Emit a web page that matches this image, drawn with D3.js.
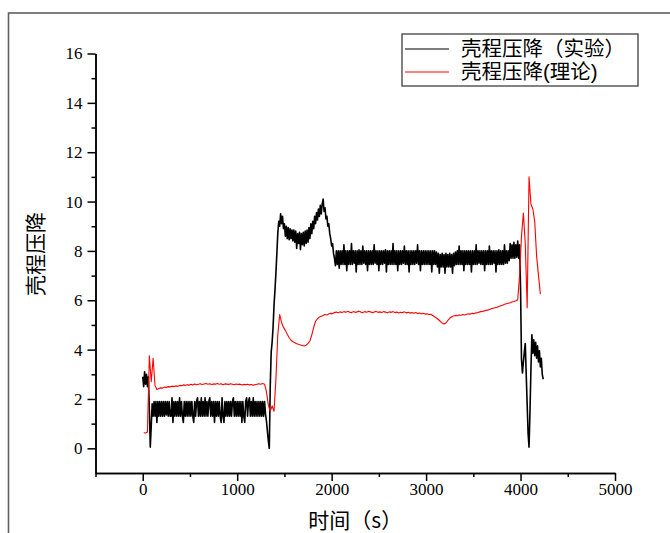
<!DOCTYPE html>
<html>
<head>
<meta charset="utf-8">
<script src="https://cdn.jsdelivr.net/npm/d3@7/dist/d3.min.js"></script>
<style>
  body { margin: 0; background: #fff; }
  svg { display: block; }
  .tick text { font-family: "Liberation Serif", "Times New Roman", serif; font-size: 17px; fill: #000; }
  .cjk { font-family: "Noto Sans CJK SC", sans-serif; }
  .legend-text { font-family: "Liberation Sans", "Noto Sans CJK SC", sans-serif; }
</style>
</head>
<body>
<script>
// experimental shell-side pressure drop, logged every 10 s from t = 0
var expStart = 0, expStep = 10;
var expValues = [
  2.9, 2.5, 3.1, 2.6, 3.0, 2.5, 2.9, 1.6, 0.05, 0.9,          // 0
  1.8, 1.3, 1.9, 1.3, 1.9, 1.05, 1.9, 1.3, 1.9, 1.3,          // 100
  1.9, 1.3, 1.9, 1.3, 1.9, 1.35, 1.9, 1.3, 1.9, 1.3,          // 200
  1.3, 2.05, 1.05, 1.9, 1.3, 1.9, 1.3, 1.9, 1.3, 2.05,        // 300
  1.3, 1.9, 1.3, 1.05, 1.9, 1.3, 1.9, 1.3, 1.9, 1.3,          // 400
  1.9, 1.3, 1.9, 1.3, 1.05, 1.9, 1.3, 1.9, 2.05, 1.3,         // 500
  1.9, 1.3, 2.05, 1.3, 1.9, 1.3, 2.05, 1.3, 1.9, 1.3,         // 600
  1.9, 2.05, 1.3, 1.9, 1.3, 1.9, 1.05, 1.9, 1.3, 1.9,         // 700
  1.3, 1.9, 1.3, 1.05, 2.05, 1.3, 1.05, 1.9, 1.3, 1.9,        // 800
  1.3, 1.9, 1.3, 1.9, 1.3, 1.9, 2.05, 1.3, 1.9, 1.3,          // 900
  1.9, 1.3, 1.9, 1.3, 1.9, 1.05, 1.9, 1.3, 1.05, 1.9,         // 1000
  2.05, 1.3, 1.9, 2.05, 1.3, 1.9, 1.3, 2.05, 1.3, 1.9,        // 1100
  1.3, 1.9, 1.3, 1.9, 1.3, 1.9, 1.3, 1.9, 1.3, 1.9,           // 1200
  1.4, 1.1, 0.7, 0.3, 0.0, 2.5, 3.9, 4.3, 4.9, 5.8,           // 1300
  6.4, 7.1, 7.9, 8.7, 9.2, 9.0, 9.5, 9.1, 9.4, 8.9,           // 1400
  9.1, 8.6, 9.0, 8.5, 8.95, 8.45, 8.9, 8.5, 8.85, 8.4,        // 1500
  8.85, 8.35, 8.8, 8.1, 8.7, 8.3, 8.75, 8.05, 8.7, 8.25,      // 1600
  8.75, 8.2, 8.8, 8.3, 8.85, 8.35, 8.95, 8.5, 9.1, 8.7,       // 1700
  9.2, 8.9, 9.4, 9.1, 9.55, 9.25, 9.7, 9.4, 9.85, 9.5,        // 1800
  9.9, 10.1, 9.6, 9.75, 9.3, 9.4, 9.0, 9.1, 8.7, 8.5,         // 1900
  8.2, 8.3, 7.9, 7.7, 7.4, 8.0, 7.45, 8.0, 7.3, 8.0,          // 2000
  7.45, 8.0, 7.45, 8.25, 7.45, 8.0, 7.2, 8.0, 7.45, 8.0,      // 2100
  7.45, 8.3, 7.45, 8.0, 7.5, 8.0, 7.15, 8.0, 7.45, 8.05,      // 2200
  7.45, 8.0, 7.45, 8.2, 7.5, 8.0, 7.45, 8.0, 7.2, 8.0,        // 2300
  7.45, 8.0, 7.45, 8.0, 7.45, 8.25, 7.5, 8.0, 7.45, 8.0,      // 2400
  7.2, 8.0, 7.45, 8.0, 7.45, 8.0, 7.5, 8.05, 7.15, 8.0,       // 2500
  7.45, 8.0, 7.45, 8.0, 7.45, 8.3, 7.45, 8.0, 7.45, 8.0,      // 2600
  7.2, 8.0, 7.45, 8.0, 7.45, 8.0, 7.5, 8.2, 7.45, 8.0,        // 2700
  7.45, 8.0, 7.15, 8.0, 7.45, 8.0, 7.45, 8.0, 7.45, 8.0,      // 2800
  7.5, 8.25, 7.45, 8.0, 7.2, 8.0, 7.45, 8.0, 7.45, 8.0,       // 2900
  7.45, 8.0, 7.45, 8.0, 7.45, 8.0, 7.15, 8.0, 7.45, 8.0,      // 3000
  7.45, 7.95, 7.35, 7.9, 7.1, 7.85, 7.35, 7.9, 7.35, 7.85,    // 3100
  7.1, 7.9, 7.35, 7.85, 7.35, 7.9, 7.35, 7.85, 7.1, 7.9,      // 3200
  7.4, 7.95, 7.45, 8.0, 7.45, 8.2, 7.45, 8.0, 7.45, 8.0,      // 3300
  7.2, 8.0, 7.45, 8.0, 7.45, 8.0, 7.45, 8.0, 7.15, 8.0,       // 3400
  7.45, 8.0, 7.45, 8.25, 7.45, 8.0, 7.5, 8.0, 7.45, 8.0,      // 3500
  7.45, 8.0, 7.2, 8.0, 7.45, 8.0, 7.45, 8.2, 7.45, 8.0,       // 3600
  7.45, 8.0, 7.5, 8.0, 7.15, 8.0, 7.45, 8.05, 7.45, 8.0,      // 3700
  7.45, 8.0, 7.45, 8.25, 7.5, 8.0, 7.5, 8.0, 7.6, 8.3,        // 3800
  7.7, 8.25, 7.7, 8.35, 7.7, 8.25, 7.75, 8.4, 7.7, 8.25,      // 3900
  6.5, 3.6, 3.05, 3.5, 3.9, 4.25, 3.0, 1.8, 0.6, 0.05,        // 4000
  1.5, 3.2, 4.6, 3.85, 4.4, 3.75, 4.3, 3.65, 4.15, 3.5,       // 4100
  3.95, 3.3, 3.65, 3.0, 2.8                                   // 4200
];

// theoretical shell-side pressure drop, every 20 s from t = 10
var theoStart = 10, theoStep = 20;
var theoValues = [
  0.63, 0.62, 0.66, 3.75, 2.7, 3.65, 2.55, 2.38, 2.42, 2.45,             // 10
  2.44, 2.48, 2.47, 2.5, 2.49, 2.52, 2.5, 2.53, 2.51, 2.55,              // 210
  2.54, 2.57, 2.55, 2.58, 2.56, 2.6, 2.57, 2.61, 2.58, 2.6,              // 410
  2.62, 2.59, 2.61, 2.63, 2.6, 2.62, 2.59, 2.61, 2.6, 2.63,              // 610
  2.6, 2.62, 2.58, 2.61, 2.6, 2.59, 2.62, 2.6, 2.58, 2.61,               // 810
  2.59, 2.6, 2.57, 2.59, 2.58, 2.6, 2.57, 2.59, 2.56, 2.58,              // 1010
  2.6, 2.62, 2.6, 2.63, 2.6, 2.3, 1.75, 1.5, 1.72, 1.5,                  // 1210
  2.8, 4.6, 5.42, 5.1, 4.9, 4.78, 4.62, 4.48, 4.38, 4.32,                // 1410
  4.28, 4.24, 4.22, 4.19, 4.17, 4.15, 4.18, 4.25, 4.35, 4.6,             // 1610
  4.9, 5.15, 5.25, 5.32, 5.35, 5.38, 5.42, 5.4, 5.45, 5.47,              // 1810
  5.46, 5.5, 5.52, 5.49, 5.53, 5.5, 5.54, 5.51, 5.55, 5.52,              // 2010
  5.5, 5.54, 5.51, 5.53, 5.56, 5.52, 5.5, 5.54, 5.51, 5.55,              // 2210
  5.53, 5.5, 5.52, 5.55, 5.51, 5.53, 5.5, 5.54, 5.52, 5.49,              // 2410
  5.53, 5.51, 5.54, 5.5, 5.52, 5.48, 5.51, 5.5, 5.53, 5.49,              // 2610
  5.51, 5.48, 5.5, 5.47, 5.5, 5.46, 5.48, 5.45, 5.47, 5.44,              // 2810
  5.45, 5.42, 5.43, 5.38, 5.33, 5.28, 5.22, 5.15, 5.08, 5.04,            // 3010
  5.08, 5.18, 5.27, 5.33, 5.36, 5.38, 5.37, 5.4, 5.39, 5.42,             // 3210
  5.4, 5.43, 5.45, 5.44, 5.47, 5.46, 5.49, 5.5, 5.53, 5.55,              // 3410
  5.56, 5.59, 5.6, 5.63, 5.66, 5.68, 5.7, 5.72, 5.75, 5.78,              // 3610
  5.8, 5.84, 5.86, 5.88, 5.9, 5.93, 5.95, 5.98, 6.02, 7.0,               // 3810
  8.6, 9.53, 8.3, 5.7, 11.0, 9.9, 9.7, 9.2, 7.8, 7.0,                    // 4030
  6.25                                                                   // 4230
];

var seriesNames = ["壳程压降（实验）", "壳程压降(理论)"];
var seriesColors = ["#000000", "#ff0000"];
var seriesWidths = [1.6, 1.1];
var xTitle = "时间（s）";
var yTitle = "壳程压降";
var xMajorTicks = [0, 1000, 2000, 3000, 4000, 5000];
var xMinorTicks = [-500, 500, 1500, 2500, 3500, 4500];
var yMajorTicks = [0, 2, 4, 6, 8, 10, 12, 14, 16];
var yMinorTicks = [1, 3, 5, 7, 9, 11, 13, 15];

var width = 670, height = 533;
var plot = {left: 95.5, right: 615, top: 53.5, bottom: 473};

var svg = d3.select("body").append("svg")
  .attr("width", width)
  .attr("height", height);

// outer frame, runs off the right and bottom edge
svg.append("rect")
  .attr("x", 8.5).attr("y", 13)
  .attr("width", 700).attr("height", 560)
  .attr("fill", "none")
  .attr("stroke", "#606060")
  .attr("stroke-width", 1.6);

var x = d3.scaleLinear().domain([-500, 5000]).range([plot.left, plot.right]);
var y = d3.scaleLinear().domain([-1, 16]).range([plot.bottom, plot.top]);

var expData = expValues.map(function(v, i) { return [expStart + i * expStep, v]; });
var theoData = theoValues.map(function(v, i) { return [theoStart + i * theoStep, v]; });

var line = d3.line()
  .x(function(d) { return x(d[0]); })
  .y(function(d) { return y(d[1]); });

[expData, theoData].forEach(function(data, i) {
  svg.append("path")
    .datum(data)
    .attr("d", line)
    .attr("fill", "none")
    .attr("stroke", seriesColors[i])
    .attr("stroke-width", seriesWidths[i])
    .attr("stroke-linejoin", "round");
});

// axes: major ticks with labels, minor ticks without
function styleAxis(g) {
  g.selectAll("path, line").attr("stroke", "#000").attr("stroke-width", 1.5);
}

svg.append("g")
  .attr("transform", "translate(0," + plot.bottom + ")")
  .call(d3.axisBottom(x).tickValues(xMinorTicks).tickSize(4).tickSizeOuter(0).tickFormat(""))
  .call(styleAxis);
svg.append("g")
  .attr("transform", "translate(0," + plot.bottom + ")")
  .call(d3.axisBottom(x).tickValues(xMajorTicks).tickSize(8).tickSizeOuter(0).tickPadding(2).tickFormat(d3.format("d")))
  .call(styleAxis);

svg.append("g")
  .attr("transform", "translate(" + plot.left + ",0)")
  .call(d3.axisLeft(y).tickValues(yMinorTicks).tickSize(4).tickSizeOuter(0).tickFormat(""))
  .call(styleAxis);
svg.append("g")
  .attr("transform", "translate(" + plot.left + ",0)")
  .call(d3.axisLeft(y).tickValues(yMajorTicks).tickSize(8).tickSizeOuter(0).tickPadding(5).tickFormat(d3.format("d")))
  .call(styleAxis);

// axis titles
svg.append("text")
  .attr("class", "cjk")
  .attr("x", (plot.left + plot.right) / 2)
  .attr("y", 528)
  .attr("text-anchor", "middle")
  .attr("font-size", 21)
  .text(xTitle);

svg.append("text")
  .attr("class", "cjk")
  .attr("transform", "translate(43,254) rotate(-90)")
  .attr("text-anchor", "middle")
  .attr("font-size", 21)
  .text(yTitle);

// legend
var legend = svg.append("g").attr("transform", "translate(402,34)");
legend.append("rect")
  .attr("width", 236).attr("height", 52)
  .attr("fill", "#fff")
  .attr("stroke", "#404040")
  .attr("stroke-width", 1.3);

seriesNames.forEach(function(name, i) {
  var ly = 15 + i * 23;
  legend.append("line")
    .attr("x1", 3).attr("x2", 47)
    .attr("y1", ly).attr("y2", ly)
    .attr("stroke", seriesColors[i])
    .attr("stroke-width", 1);
  legend.append("text")
    .attr("class", "legend-text")
    .attr("x", 59).attr("y", ly)
    .attr("dy", "0.36em")
    .attr("font-size", 20.5)
    .text(name);
});
</script>
</body>
</html>
